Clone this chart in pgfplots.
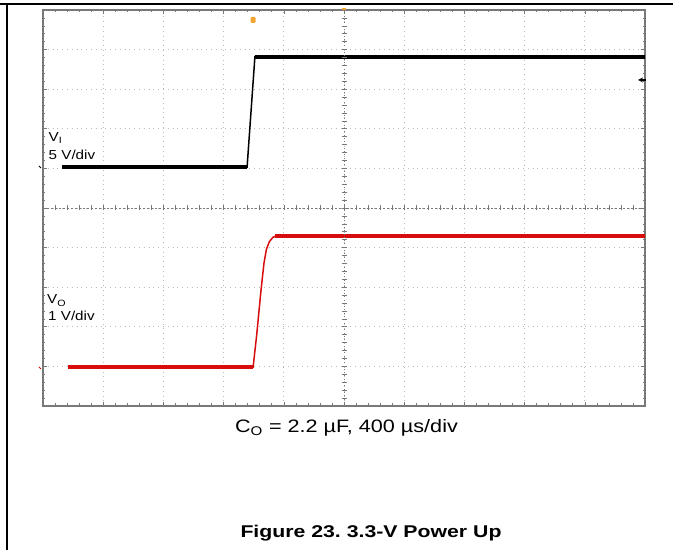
\documentclass[border=0pt]{standalone}
\usepackage{pgfplots}
\pgfplotsset{compat=1.18}
\usepackage{fontspec}
\setmainfont{Liberation Sans}
\usepackage{graphicx}
\frenchspacing
\definecolor{trRed}{RGB}{215,12,12}
\definecolor{trOrange}{RGB}{240,165,50}
\definecolor{frameGray}{RGB}{120,120,120}
\definecolor{gridGray}{RGB}{185,185,185}
\begin{document}
\begin{tikzpicture}[x=1bp,y=1bp]
\useasboundingbox (-43,-144) rectangle (630,406);
\begin{axis}[at={(0,0)}, anchor=south west, width=602bp, height=396bp, scale only axis,
 xmin=0, xmax=10, ymin=-5, ymax=5,
 xtick={0,...,10}, ytick={-5,...,5}, minor x tick num=4, minor y tick num=4,
 xticklabels={}, yticklabels={},
 tick align=inside, major tick length=4bp, minor tick length=2.5bp,
 tick style={frameGray, line width=0.6bp},
 grid=major, major grid style={dash pattern=on 0.8bp off 4bp, gridGray, line width=0.8bp},
 axis line style={frameGray, line width=1.2bp},
 clip=false]
% V_I trace
\addplot[black, line width=1.5bp] coordinates {(0.32,1.03) (3.39,1.03) (3.52,3.82) (10,3.82)};
\addplot[black, line width=4.2bp] coordinates {(0.32,1.03) (3.39,1.03)};
\addplot[black, line width=4.2bp] coordinates {(3.52,3.82) (10,3.82)};
% V_O trace
\addplot[trRed, line width=1.5bp] coordinates {(0.42,-4.02) (3.49,-4.02) (3.55,-3.2) (3.62,-2.1) (3.67,-1.4) (3.71,-1.05) (3.76,-0.85) (3.82,-0.74) (3.88,-0.70) (10,-0.70)};
\addplot[trRed, line width=4.2bp] coordinates {(0.42,-4.02) (3.49,-4.02)};
\addplot[trRed, line width=4.2bp] coordinates {(3.86,-0.70) (10,-0.70)};
\end{axis}
% centre lines with fine ticks
\draw[dash pattern=on 2bp off 2bp, frameGray, line width=0.7bp] (0,198) -- (602,198);
\draw[dash pattern=on 0.8bp off 2.5bp, frameGray, line width=0.7bp] (301,0) -- (301,396);
\foreach \i in {1,...,49} {\draw[frameGray, line width=0.6bp] ({\i*12.04},195.5) -- ({\i*12.04},200.5);}
\foreach \i in {1,...,49} {\draw[frameGray, line width=0.6bp] (298.5,{\i*7.92}) -- (303.5,{\i*7.92});}
% outer frame
\draw[line width=1.5bp] (-43,402) -- (630,402);
\draw[line width=1.5bp] (-36,402) -- (-36,-144);
% markers
\node[fill=trOrange, minimum width=5bp, minimum height=6bp, inner sep=0, rounded corners=1bp] at (210,386) {};
\node[fill=trOrange, minimum width=4bp, minimum height=2bp, inner sep=0] at (301,397) {};
\draw[-stealth, line width=1.2bp] (603,326) -- (595,326);
\draw[black, line width=1bp] (-4,240) -- (-2,238);
\draw[trRed, line width=1bp] (-4,39) -- (-2,37);
% channel labels
\node[anchor=base west, inner sep=0, font=\fontsize{13bp}{15bp}\selectfont] at (5.5,264.5) {\scalebox{1.17}[1]{V\textsubscript{I}}};
\node[anchor=base west, inner sep=0, font=\fontsize{13bp}{15bp}\selectfont] at (5.5,246.7) {\scalebox{1.17}[1]{5 V/div}};
\node[anchor=base west, inner sep=0, font=\fontsize{13bp}{15bp}\selectfont] at (4,102) {\scalebox{1.17}[1]{V\textsubscript{O}}};
\node[anchor=base west, inner sep=0, font=\fontsize{13bp}{15bp}\selectfont] at (5,85.3) {\scalebox{1.17}[1]{1 V/div}};
% captions
\node[anchor=base, inner sep=0, font=\fontsize{18bp}{20bp}\selectfont] at (303.5,-27) {\scalebox{1.2}[1]{C\textsubscript{O} = 2.2 µF, 400 µs/div}};
\node[anchor=base, inner sep=0, font=\bfseries\fontsize{17bp}{20bp}\selectfont] at (328,-132) {\scalebox{1.25}[1]{Figure 23. 3.3-V Power Up}};
\end{tikzpicture}
\end{document}
